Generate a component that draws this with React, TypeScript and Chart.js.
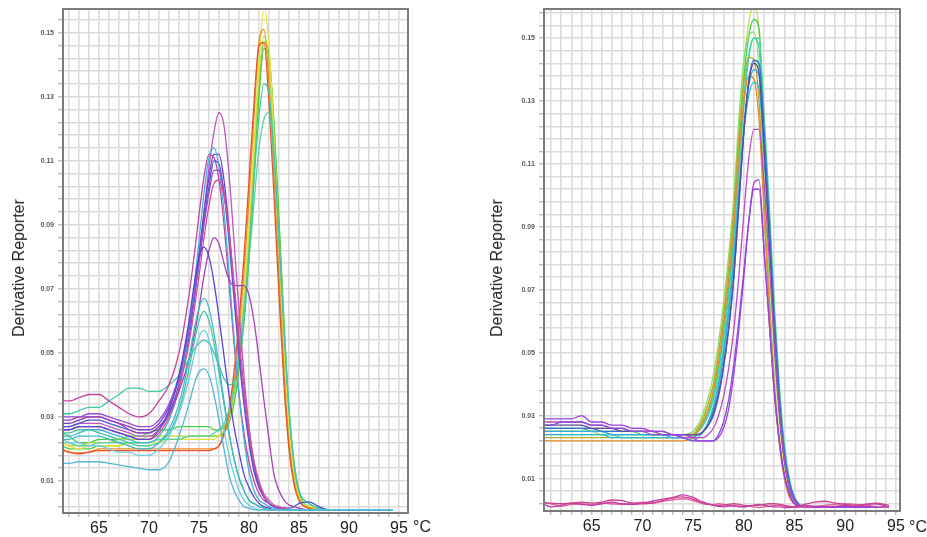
import React, { useEffect, useRef } from "react";
import { Chart, registerables } from "chart.js";

Chart.register(...registerables);

const FONT = '"Liberation Sans", Arial, Helvetica, sans-serif';

// ---------- LEFT PANEL (temperature °C, derivative reporter) ----------
const leftTemps = [
  61.4, 62, 63, 64, 65, 66, 67, 68, 69, 70,
  71, 72, 73, 74, 74.5, 75, 75.5, 76, 76.5, 77,
  77.5, 78, 78.5, 79, 79.5, 80, 80.5, 81, 81.5, 82,
  82.5, 83, 83.5, 84, 84.5, 85, 86, 87, 88, 89,
  90, 91, 92, 93, 94.4,
];

// group peaking near 76 °C
const leftB1 = [
  0.027, 0.027, 0.028, 0.028, 0.028, 0.027, 0.026, 0.025, 0.024, 0.024,
  0.026, 0.031, 0.040, 0.056, 0.067, 0.080, 0.094, 0.108, 0.119, 0.125,
  0.121, 0.106, 0.085, 0.063, 0.043, 0.027, 0.016, 0.009, 0.005, 0.003,
  0.002, 0.0015, 0.0015, 0.001, 0.001, 0.001, 0.001, 0.001, 0.001, 0.001,
  0.001, 0.001, 0.001, 0.001, 0.001,
];
const leftB2 = [
  0.028, 0.028, 0.029, 0.030, 0.030, 0.029, 0.028, 0.027, 0.026, 0.026,
  0.028, 0.033, 0.042, 0.058, 0.069, 0.081, 0.094, 0.105, 0.112, 0.112,
  0.104, 0.089, 0.070, 0.051, 0.035, 0.023, 0.014, 0.008, 0.005, 0.003,
  0.002, 0.0015, 0.0015, 0.001, 0.001, 0.001, 0.001, 0.001, 0.001, 0.001,
  0.001, 0.001, 0.001, 0.001, 0.001,
];
const leftB3 = [
  0.035, 0.035, 0.036, 0.037, 0.037, 0.035, 0.033, 0.031, 0.030, 0.031,
  0.035, 0.040, 0.050, 0.068, 0.080, 0.093, 0.105, 0.112, 0.111, 0.104,
  0.090, 0.072, 0.053, 0.037, 0.025, 0.016, 0.010, 0.006, 0.004, 0.003,
  0.002, 0.0015, 0.0015, 0.001, 0.001, 0.001, 0.001, 0.001, 0.001, 0.001,
  0.001, 0.001, 0.001, 0.001, 0.001,
];
const leftB4 = [
  0.027, 0.027, 0.028, 0.029, 0.029, 0.028, 0.027, 0.026, 0.025, 0.025,
  0.027, 0.031, 0.040, 0.055, 0.066, 0.078, 0.091, 0.102, 0.110, 0.109,
  0.100, 0.085, 0.067, 0.049, 0.034, 0.022, 0.013, 0.008, 0.005, 0.003,
  0.002, 0.0015, 0.0015, 0.0015, 0.002, 0.003, 0.0035, 0.002, 0.001, 0.001,
  0.001, 0.001, 0.001, 0.001, 0.001,
];
const leftB5 = [
  0.024, 0.024, 0.025, 0.026, 0.026, 0.025, 0.024, 0.023, 0.022, 0.022,
  0.024, 0.029, 0.039, 0.057, 0.070, 0.085, 0.100, 0.111, 0.114, 0.108,
  0.094, 0.075, 0.055, 0.037, 0.023, 0.013, 0.007, 0.004, 0.003, 0.002,
  0.0015, 0.0015, 0.001, 0.001, 0.001, 0.001, 0.001, 0.001, 0.001, 0.001,
  0.001, 0.001, 0.001, 0.001, 0.001,
];
const leftB6 = [
  0.030, 0.030, 0.030, 0.031, 0.031, 0.030, 0.029, 0.028, 0.027, 0.027,
  0.029, 0.034, 0.043, 0.057, 0.067, 0.078, 0.090, 0.100, 0.107, 0.107,
  0.100, 0.087, 0.070, 0.052, 0.036, 0.024, 0.015, 0.009, 0.005, 0.003,
  0.002, 0.0015, 0.0015, 0.001, 0.001, 0.001, 0.001, 0.001, 0.001, 0.001,
  0.001, 0.001, 0.001, 0.001, 0.001,
];
const leftB7 = [
  0.026, 0.026, 0.027, 0.027, 0.027, 0.026, 0.025, 0.024, 0.023, 0.023,
  0.025, 0.030, 0.039, 0.053, 0.063, 0.074, 0.086, 0.096, 0.103, 0.104,
  0.099, 0.088, 0.072, 0.055, 0.039, 0.026, 0.016, 0.010, 0.006, 0.004,
  0.0025, 0.002, 0.0015, 0.001, 0.001, 0.001, 0.001, 0.001, 0.001, 0.001,
  0.001, 0.001, 0.001, 0.001, 0.001,
];
const leftB8 = [
  0.029, 0.029, 0.030, 0.030, 0.030, 0.029, 0.028, 0.026, 0.025, 0.025,
  0.027, 0.031, 0.038, 0.048, 0.055, 0.064, 0.074, 0.082, 0.086, 0.084,
  0.078, 0.073, 0.071, 0.071, 0.071, 0.068, 0.060, 0.048, 0.035, 0.023,
  0.012, 0.007, 0.004, 0.0025, 0.002, 0.0015, 0.001, 0.001, 0.001, 0.001,
  0.001, 0.001, 0.001, 0.001, 0.001,
];
const leftB9 = [
  0.026, 0.026, 0.027, 0.027, 0.027, 0.026, 0.025, 0.024, 0.023, 0.023,
  0.026, 0.032, 0.043, 0.060, 0.071, 0.080, 0.083, 0.080, 0.072, 0.061,
  0.049, 0.037, 0.027, 0.019, 0.012, 0.008, 0.005, 0.003, 0.002, 0.0015,
  0.001, 0.001, 0.001, 0.001, 0.001, 0.001, 0.001, 0.001, 0.001, 0.001,
  0.001, 0.001, 0.001, 0.001, 0.001,
];
const leftB10 = [
  0.023, 0.023, 0.024, 0.024, 0.024, 0.023, 0.022, 0.021, 0.020, 0.020,
  0.022, 0.026, 0.034, 0.048, 0.057, 0.064, 0.067, 0.064, 0.056, 0.046,
  0.035, 0.025, 0.017, 0.011, 0.007, 0.004, 0.003, 0.002, 0.0015, 0.001,
  0.001, 0.001, 0.001, 0.001, 0.001, 0.001, 0.001, 0.001, 0.001, 0.001,
  0.001, 0.001, 0.001, 0.001, 0.001,
];
const leftB11 = [
  0.025, 0.025, 0.026, 0.026, 0.025, 0.024, 0.023, 0.022, 0.021, 0.021,
  0.022, 0.025, 0.032, 0.045, 0.053, 0.060, 0.063, 0.060, 0.053, 0.044,
  0.034, 0.025, 0.017, 0.011, 0.007, 0.004, 0.003, 0.002, 0.0015, 0.001,
  0.001, 0.001, 0.001, 0.001, 0.001, 0.001, 0.001, 0.001, 0.001, 0.001,
  0.001, 0.001, 0.001, 0.001, 0.001,
];
const leftB12 = [
  0.0155, 0.0155, 0.016, 0.016, 0.016, 0.0155, 0.015, 0.0145, 0.014, 0.0135,
  0.0135, 0.016, 0.024, 0.034, 0.040, 0.044, 0.045, 0.043, 0.037, 0.029,
  0.020, 0.012, 0.007, 0.004, 0.002, 0.0015, 0.001, 0.001, 0.001, 0.001,
  0.001, 0.001, 0.001, 0.001, 0.001, 0.001, 0.001, 0.001, 0.001, 0.001,
  0.001, 0.001, 0.001, 0.001, 0.001,
];
const leftB13 = [
  0.022, 0.022, 0.022, 0.021, 0.021, 0.020, 0.019, 0.019, 0.018, 0.018,
  0.020, 0.024, 0.031, 0.042, 0.049, 0.055, 0.057, 0.054, 0.046, 0.036,
  0.026, 0.018, 0.012, 0.007, 0.004, 0.0025, 0.0015, 0.001, 0.001, 0.001,
  0.001, 0.001, 0.001, 0.001, 0.001, 0.001, 0.001, 0.001, 0.001, 0.001,
  0.001, 0.001, 0.001, 0.001, 0.001,
];

// group peaking near 81.5 °C
const leftA1 = [
  0.022, 0.021, 0.020, 0.021, 0.021, 0.021, 0.021, 0.022, 0.022, 0.022,
  0.022, 0.023, 0.023, 0.023, 0.023, 0.023, 0.023, 0.023, 0.023, 0.024,
  0.026, 0.031, 0.040, 0.053, 0.069, 0.090, 0.115, 0.141, 0.158, 0.146,
  0.118, 0.085, 0.052, 0.027, 0.012, 0.005, 0.002, 0.0015, 0.001, 0.001,
  0.001, 0.001, 0.001, 0.001, 0.001,
];
const leftA2 = [
  0.020, 0.019, 0.0188, 0.019, 0.020, 0.020, 0.020, 0.020, 0.020, 0.020,
  0.020, 0.020, 0.020, 0.020, 0.020, 0.020, 0.020, 0.020, 0.020, 0.021,
  0.024, 0.030, 0.041, 0.056, 0.075, 0.098, 0.124, 0.147, 0.151, 0.134,
  0.106, 0.074, 0.044, 0.022, 0.010, 0.004, 0.0015, 0.001, 0.001, 0.001,
  0.001, 0.001, 0.001, 0.001, 0.001,
];
const leftA3 = [
  0.0195, 0.019, 0.0185, 0.019, 0.0195, 0.0195, 0.0195, 0.0195, 0.0195, 0.0195,
  0.0195, 0.0195, 0.0195, 0.0195, 0.0195, 0.0195, 0.0195, 0.0195, 0.020, 0.021,
  0.025, 0.032, 0.044, 0.060, 0.080, 0.104, 0.128, 0.146, 0.147, 0.128,
  0.099, 0.068, 0.040, 0.020, 0.009, 0.004, 0.0015, 0.001, 0.001, 0.001,
  0.001, 0.001, 0.001, 0.001, 0.001,
];
const leftA4 = [
  0.022, 0.021, 0.021, 0.022, 0.022, 0.022, 0.023, 0.023, 0.023, 0.024,
  0.024, 0.024, 0.024, 0.024, 0.024, 0.024, 0.024, 0.024, 0.024, 0.024,
  0.026, 0.030, 0.038, 0.050, 0.066, 0.087, 0.112, 0.136, 0.149, 0.140,
  0.114, 0.083, 0.051, 0.026, 0.012, 0.005, 0.002, 0.0015, 0.001, 0.001,
  0.001, 0.001, 0.001, 0.001, 0.001,
];
const leftA5 = [
  0.025, 0.024, 0.022, 0.022, 0.023, 0.023, 0.023, 0.024, 0.024, 0.025,
  0.026, 0.026, 0.027, 0.027, 0.027, 0.027, 0.027, 0.027, 0.026, 0.026,
  0.027, 0.030, 0.037, 0.049, 0.064, 0.085, 0.110, 0.134, 0.147, 0.143,
  0.120, 0.090, 0.057, 0.030, 0.014, 0.006, 0.002, 0.0015, 0.001, 0.001,
  0.001, 0.001, 0.001, 0.001, 0.001,
];
const leftA6 = [
  0.021, 0.020, 0.020, 0.020, 0.021, 0.021, 0.021, 0.022, 0.022, 0.022,
  0.023, 0.023, 0.023, 0.024, 0.024, 0.024, 0.024, 0.024, 0.024, 0.024,
  0.025, 0.028, 0.034, 0.045, 0.060, 0.080, 0.105, 0.130, 0.145, 0.142,
  0.122, 0.092, 0.060, 0.032, 0.015, 0.006, 0.002, 0.0015, 0.001, 0.001,
  0.001, 0.001, 0.001, 0.001, 0.001,
];
const leftA7 = [
  0.031, 0.031, 0.032, 0.033, 0.033, 0.035, 0.037, 0.039, 0.039, 0.038,
  0.038, 0.040, 0.043, 0.048, 0.051, 0.053, 0.054, 0.053, 0.050, 0.046,
  0.042, 0.040, 0.041, 0.047, 0.060, 0.080, 0.104, 0.124, 0.134, 0.131,
  0.113, 0.086, 0.057, 0.032, 0.016, 0.007, 0.003, 0.0015, 0.001, 0.001,
  0.001, 0.001, 0.001, 0.001, 0.001,
];
const leftA8 = [
  0.023, 0.022, 0.021, 0.021, 0.022, 0.022, 0.022, 0.022, 0.022, 0.022,
  0.023, 0.023, 0.023, 0.024, 0.024, 0.024, 0.024, 0.024, 0.025, 0.026,
  0.028, 0.032, 0.039, 0.050, 0.064, 0.079, 0.097, 0.114, 0.123, 0.125,
  0.110, 0.085, 0.058, 0.033, 0.016, 0.007, 0.003, 0.0015, 0.001, 0.001,
  0.001, 0.001, 0.001, 0.001, 0.001,
];

// ---------- RIGHT PANEL ----------
const rightTemps = [
  60.3, 61, 62, 63, 64, 65, 66, 67, 68, 69,
  70, 71, 72, 73, 74, 75, 75.5, 76, 76.5, 77,
  77.5, 78, 78.5, 79, 79.5, 80, 80.5, 81, 81.5, 82,
  82.5, 83, 83.5, 84, 84.5, 85, 86, 87, 88, 89,
  90, 91, 92, 93, 94.3,
];

const rightN1 = [
  0.0025, 0.0022, 0.0020, 0.0022, 0.0025, 0.0022, 0.0025, 0.0032, 0.0030, 0.0022,
  0.0020, 0.0022, 0.0030, 0.0038, 0.0042, 0.0035, 0.0028, 0.0022, 0.0018, 0.0016,
  0.0015, 0.0016, 0.0018, 0.0020, 0.0018, 0.0015, 0.0014, 0.0015, 0.0016, 0.0018,
  0.0020, 0.0020, 0.0018, 0.0015, 0.0012, 0.0010, 0.0018, 0.0025, 0.0028, 0.0022,
  0.0018, 0.0015, 0.0018, 0.0022, 0.0015,
];
const rightN2 = [
  0.0018, 0.0010, 0.0015, 0.0022, 0.0018, 0.0015, 0.0020, 0.0025, 0.0020, 0.0018,
  0.0022, 0.0028, 0.0035, 0.0040, 0.0048, 0.0040, 0.0032, 0.0025, 0.0020, 0.0015,
  0.0012, 0.0010, 0.0012, 0.0015, 0.0012, 0.0010, 0.0012, 0.0015, 0.0018, 0.0015,
  0.0012, 0.0010, 0.0010, 0.0008, 0.0008, 0.0010, 0.0015, 0.0012, 0.0010, 0.0012,
  0.0015, 0.0012, 0.0018, 0.0020, 0.0010,
];
const rightN3 = [
  0.0022, 0.0020, 0.0012, 0.0018, 0.0020, 0.0018, 0.0022, 0.0020, 0.0018, 0.0022,
  0.0025, 0.0022, 0.0028, 0.0032, 0.0036, 0.0030, 0.0025, 0.0020, 0.0018, 0.0018,
  0.0020, 0.0018, 0.0015, 0.0012, 0.0010, 0.0010, 0.0012, 0.0010, 0.0008, 0.0010,
  0.0012, 0.0015, 0.0015, 0.0012, 0.0010, 0.0008, 0.0010, 0.0012, 0.0015, 0.0018,
  0.0020, 0.0018, 0.0015, 0.0012, 0.0008,
];

const rightR12 = [
  0.029, 0.029, 0.029, 0.029, 0.030, 0.028, 0.028, 0.027, 0.027, 0.026,
  0.026, 0.025, 0.025, 0.024, 0.024, 0.023, 0.022, 0.022, 0.022, 0.022,
  0.023, 0.026, 0.032, 0.043, 0.057, 0.074, 0.092, 0.104, 0.105, 0.083,
  0.060, 0.038, 0.022, 0.011, 0.005, 0.002, 0.001, 0.001, 0.001, 0.001,
  0.001, 0.001, 0.001, 0.001, 0.001,
];
const rightR13 = [
  0.027, 0.027, 0.028, 0.028, 0.028, 0.027, 0.027, 0.026, 0.026, 0.025,
  0.025, 0.024, 0.024, 0.024, 0.023, 0.022, 0.022, 0.022, 0.022, 0.022,
  0.024, 0.028, 0.035, 0.046, 0.060, 0.076, 0.092, 0.102, 0.102, 0.082,
  0.060, 0.038, 0.022, 0.011, 0.005, 0.002, 0.001, 0.001, 0.001, 0.001,
  0.001, 0.001, 0.001, 0.001, 0.001,
];
const rightR11 = [
  0.028, 0.028, 0.028, 0.028, 0.028, 0.027, 0.027, 0.026, 0.026, 0.025,
  0.025, 0.025, 0.024, 0.024, 0.023, 0.023, 0.023, 0.023, 0.024, 0.026,
  0.030, 0.036, 0.045, 0.057, 0.074, 0.094, 0.112, 0.121, 0.121, 0.104,
  0.080, 0.053, 0.031, 0.016, 0.007, 0.003, 0.001, 0.001, 0.001, 0.001,
  0.001, 0.001, 0.001, 0.001, 0.001,
];
const rightR9 = [
  0.027, 0.027, 0.027, 0.027, 0.027, 0.026, 0.026, 0.026, 0.025, 0.025,
  0.025, 0.025, 0.025, 0.024, 0.024, 0.024, 0.024, 0.025, 0.027, 0.031,
  0.037, 0.046, 0.058, 0.074, 0.097, 0.120, 0.136, 0.142, 0.139, 0.115,
  0.086, 0.056, 0.032, 0.016, 0.007, 0.003, 0.001, 0.001, 0.001, 0.001,
  0.001, 0.001, 0.001, 0.001, 0.001,
];
const rightR7 = [
  0.026, 0.026, 0.026, 0.026, 0.026, 0.026, 0.025, 0.025, 0.025, 0.025,
  0.025, 0.025, 0.024, 0.024, 0.024, 0.024, 0.024, 0.025, 0.027, 0.030,
  0.036, 0.045, 0.057, 0.073, 0.096, 0.120, 0.137, 0.143, 0.142, 0.121,
  0.093, 0.062, 0.037, 0.019, 0.009, 0.004, 0.001, 0.001, 0.001, 0.001,
  0.001, 0.001, 0.001, 0.001, 0.001,
];
const rightR8 = [
  0.025, 0.025, 0.025, 0.025, 0.025, 0.025, 0.025, 0.024, 0.024, 0.024,
  0.024, 0.024, 0.024, 0.023, 0.023, 0.023, 0.024, 0.025, 0.028, 0.032,
  0.039, 0.049, 0.062, 0.079, 0.101, 0.122, 0.135, 0.140, 0.138, 0.116,
  0.088, 0.058, 0.034, 0.017, 0.008, 0.003, 0.001, 0.001, 0.001, 0.001,
  0.001, 0.001, 0.001, 0.001, 0.001,
];
const rightR10 = [
  0.024, 0.024, 0.024, 0.024, 0.024, 0.024, 0.024, 0.023, 0.023, 0.023,
  0.023, 0.023, 0.023, 0.023, 0.023, 0.022, 0.023, 0.025, 0.028, 0.033,
  0.040, 0.050, 0.063, 0.079, 0.100, 0.120, 0.132, 0.136, 0.134, 0.113,
  0.087, 0.058, 0.034, 0.017, 0.008, 0.003, 0.001, 0.001, 0.001, 0.001,
  0.001, 0.001, 0.001, 0.001, 0.001,
];
const rightR5 = [
  0.022, 0.022, 0.022, 0.022, 0.022, 0.022, 0.022, 0.022, 0.022, 0.022,
  0.022, 0.022, 0.022, 0.022, 0.022, 0.023, 0.025, 0.028, 0.032, 0.038,
  0.047, 0.059, 0.073, 0.090, 0.112, 0.130, 0.138, 0.137, 0.124, 0.094,
  0.064, 0.038, 0.021, 0.010, 0.004, 0.002, 0.001, 0.001, 0.001, 0.001,
  0.001, 0.001, 0.001, 0.001, 0.001,
];
const rightR6 = [
  0.023, 0.023, 0.023, 0.023, 0.023, 0.023, 0.023, 0.023, 0.023, 0.023,
  0.023, 0.023, 0.023, 0.023, 0.023, 0.024, 0.026, 0.029, 0.034, 0.040,
  0.050, 0.062, 0.077, 0.095, 0.118, 0.136, 0.144, 0.143, 0.130, 0.098,
  0.067, 0.040, 0.022, 0.011, 0.005, 0.002, 0.001, 0.001, 0.001, 0.001,
  0.001, 0.001, 0.001, 0.001, 0.001,
];
const rightR4 = [
  0.024, 0.024, 0.024, 0.024, 0.024, 0.024, 0.024, 0.024, 0.023, 0.023,
  0.023, 0.023, 0.023, 0.023, 0.023, 0.023, 0.025, 0.027, 0.031, 0.036,
  0.044, 0.055, 0.068, 0.085, 0.109, 0.131, 0.145, 0.150, 0.147, 0.117,
  0.086, 0.054, 0.031, 0.016, 0.007, 0.003, 0.001, 0.001, 0.001, 0.001,
  0.001, 0.001, 0.001, 0.001, 0.001,
];
const rightR14 = [
  0.025, 0.025, 0.025, 0.025, 0.025, 0.025, 0.025, 0.024, 0.024, 0.024,
  0.024, 0.024, 0.024, 0.024, 0.024, 0.024, 0.025, 0.027, 0.030, 0.035,
  0.042, 0.052, 0.065, 0.082, 0.106, 0.128, 0.144, 0.150, 0.150, 0.126,
  0.098, 0.066, 0.040, 0.021, 0.010, 0.004, 0.001, 0.001, 0.001, 0.001,
  0.001, 0.001, 0.001, 0.001, 0.001,
];
const rightR3 = [
  0.025, 0.025, 0.025, 0.025, 0.025, 0.025, 0.024, 0.024, 0.024, 0.024,
  0.024, 0.024, 0.024, 0.024, 0.024, 0.025, 0.027, 0.031, 0.036, 0.043,
  0.053, 0.066, 0.081, 0.099, 0.124, 0.143, 0.151, 0.152, 0.140, 0.105,
  0.072, 0.042, 0.023, 0.011, 0.005, 0.002, 0.001, 0.001, 0.001, 0.001,
  0.001, 0.001, 0.001, 0.001, 0.001,
];
const rightR2 = [
  0.026, 0.026, 0.026, 0.026, 0.026, 0.025, 0.025, 0.025, 0.025, 0.025,
  0.024, 0.024, 0.024, 0.024, 0.024, 0.024, 0.026, 0.028, 0.032, 0.037,
  0.045, 0.056, 0.070, 0.088, 0.114, 0.137, 0.151, 0.156, 0.153, 0.120,
  0.088, 0.055, 0.032, 0.016, 0.007, 0.003, 0.001, 0.001, 0.001, 0.001,
  0.001, 0.001, 0.001, 0.001, 0.001,
];
const rightR1 = [
  0.025, 0.025, 0.025, 0.025, 0.025, 0.025, 0.025, 0.024, 0.024, 0.024,
  0.024, 0.024, 0.024, 0.024, 0.024, 0.025, 0.027, 0.030, 0.034, 0.040,
  0.049, 0.061, 0.076, 0.094, 0.121, 0.142, 0.155, 0.161, 0.152, 0.116,
  0.083, 0.050, 0.028, 0.014, 0.006, 0.003, 0.001, 0.001, 0.001, 0.001,
  0.001, 0.001, 0.001, 0.001, 0.001,
];

type Series = { values: number[]; color: string };

const leftSeries: Series[] = [
  { values: leftB12, color: "#55b6d8" },
  { values: leftB13, color: "#6fcbe0" },
  { values: leftB10, color: "#3cb9c4" },
  { values: leftB11, color: "#48c4a6" },
  { values: leftB9, color: "#5a46d0" },
  { values: leftB8, color: "#a542b6" },
  { values: leftB7, color: "#d4508e" },
  { values: leftB6, color: "#9a4ad8" },
  { values: leftB5, color: "#42b2dc" },
  { values: leftB4, color: "#4a58d8" },
  { values: leftB3, color: "#c4449e" },
  { values: leftB2, color: "#7a3cc8" },
  { values: leftB1, color: "#c055c4" },
  { values: leftA7, color: "#3ec8a6" },
  { values: leftA8, color: "#5ad2a0" },
  { values: leftA3, color: "#e8522c" },
  { values: leftA2, color: "#f08c24" },
  { values: leftA1, color: "#e4e23c" },
  { values: leftA4, color: "#b6dc3c" },
  { values: leftA6, color: "#5cc83c" },
  { values: leftA5, color: "#44d046" },
];

const rightSeries: Series[] = [
  { values: rightN1, color: "#d0408c" },
  { values: rightN2, color: "#c03caa" },
  { values: rightN3, color: "#e060a0" },
  { values: rightR12, color: "#a040e0" },
  { values: rightR13, color: "#8a4ad8" },
  { values: rightR11, color: "#c04cc0" },
  { values: rightR9, color: "#5a4a9a" },
  { values: rightR7, color: "#3470dc" },
  { values: rightR8, color: "#38a8e8" },
  { values: rightR10, color: "#30bcc8" },
  { values: rightR5, color: "#e88a28" },
  { values: rightR6, color: "#b8a830" },
  { values: rightR4, color: "#3cd2b4" },
  { values: rightR14, color: "#50d890" },
  { values: rightR3, color: "#88e070" },
  { values: rightR2, color: "#3ccf5a" },
  { values: rightR1, color: "#c8e040" },
];

const yLabelStep = 0.02; // labelled ticks 0.01, 0.03, ...
const yGridStep = 0.004;
const xLabelStep = 5;

const framePlugin = {
  id: "frame",
  afterDraw(chart: any) {
    const { ctx, chartArea: a } = chart;
    ctx.save();
    ctx.strokeStyle = "#7c7c7c";
    ctx.lineWidth = 2;
    ctx.strokeRect(a.left, a.top, a.right - a.left, a.bottom - a.top);
    ctx.restore();
  },
};

type PanelProps = {
  temps: number[];
  series: Series[];
  xMin: number;
  xMax: number;
  yMin: number;
  yMax: number;
  width: number;
  height: number;
  yAxisWidth: number;
  xAxisHeight: number;
  padTop: number;
  padRight: number;
};

function MeltPanel(p: PanelProps) {
  const ref = useRef<HTMLCanvasElement | null>(null);
  useEffect(() => {
    if (!ref.current) return;
    const datasets = p.series.map((s) => ({
      data: s.values.map((y, i) => ({ x: p.temps[i], y })),
      borderColor: s.color,
      borderWidth: 1.3,
      pointRadius: 0,
      fill: false,
      cubicInterpolationMode: "monotone" as const,
    }));
    const chart = new Chart(ref.current, {
      type: "line",
      data: { datasets },
      options: {
        animation: false,
        responsive: false,
        maintainAspectRatio: false,
        devicePixelRatio: 1,
        layout: { padding: { left: 0, top: p.padTop, right: p.padRight, bottom: 0 } },
        plugins: { legend: { display: false }, tooltip: { enabled: false } },
        scales: {
          x: {
            type: "linear",
            min: p.xMin,
            max: p.xMax,
            border: { display: false },
            grid: { color: "#dcdcdc", lineWidth: 1.6, tickLength: 4, tickColor: "#a0a0a0", tickWidth: 1 },
            afterBuildTicks: (s: any) => {
              const t = [];
              for (let v = Math.ceil(p.xMin); v <= Math.floor(p.xMax); v++) t.push({ value: v });
              s.ticks = t;
            },
            afterFit: (s: any) => {
              s.height = p.xAxisHeight;
            },
            ticks: {
              autoSkip: false,
              maxRotation: 0,
              padding: 2,
              color: "#222",
              font: { family: FONT, size: 16 },
              callback: (v: any) => (Number(v) % xLabelStep === 0 ? String(v) : ""),
            },
          },
          y: {
            type: "linear",
            min: p.yMin,
            max: p.yMax,
            border: { display: false },
            grid: { color: "#dcdcdc", lineWidth: 1.6, tickLength: 5, tickColor: "#a0a0a0", tickWidth: 1 },
            afterBuildTicks: (s: any) => {
              const t = [];
              for (let k = 0; ; k++) {
                const v = 0.01 - 2 * yGridStep + k * yGridStep;
                if (v > p.yMax) break;
                if (v >= p.yMin) t.push({ value: Math.round(v * 10000) / 10000 });
              }
              s.ticks = t;
            },
            afterFit: (s: any) => {
              s.width = p.yAxisWidth;
            },
            ticks: {
              autoSkip: false,
              padding: 4,
              color: "#5a5a5a",
              font: { family: FONT, size: 7, weight: "bold" },
              callback: (v: any) => {
                const n = Number(v);
                const r = (n - 0.01) / yLabelStep;
                return Math.abs(r - Math.round(r)) < 1e-6 ? n.toFixed(2) : "";
              },
            },
          },
        },
      },
      plugins: [framePlugin],
    });
    return () => chart.destroy();
  }, []);
  return <canvas ref={ref} width={p.width} height={p.height} style={{ display: "block" }} />;
}

const titleStyle: React.CSSProperties = {
  position: "absolute",
  transform: "translate(-50%, -50%) rotate(-90deg)",
  whiteSpace: "nowrap",
  fontFamily: FONT,
  fontSize: 16,
  color: "#222",
  lineHeight: "18px",
};

const unitStyle: React.CSSProperties = {
  position: "absolute",
  top: 517,
  fontFamily: FONT,
  fontSize: 16,
  lineHeight: "20px",
  color: "#222",
  whiteSpace: "nowrap",
};

export default function App() {
  return (
    <div
      style={{
        position: "fixed",
        left: 0,
        top: 0,
        width: 927,
        height: 537,
        background: "#fff",
        overflow: "hidden",
      }}
    >
      <div style={{ position: "absolute", left: 0, top: 0 }}>
        <MeltPanel
          temps={leftTemps}
          series={leftSeries}
          xMin={61.4}
          xMax={95.9}
          yMin={0}
          yMax={0.1574}
          width={460}
          height={537}
          yAxisWidth={63}
          xAxisHeight={24}
          padTop={9}
          padRight={52}
        />
      </div>
      <div style={{ position: "absolute", left: 470, top: 0 }}>
        <MeltPanel
          temps={rightTemps}
          series={rightSeries}
          xMin={60.3}
          xMax={95.4}
          yMin={-0.0003}
          yMax={0.1593}
          width={457}
          height={537}
          yAxisWidth={74}
          xAxisHeight={26}
          padTop={9}
          padRight={27}
        />
      </div>
      <div style={{ ...titleStyle, left: 18.5, top: 268 }}>Derivative Reporter</div>
      <div style={{ ...titleStyle, left: 497, top: 268 }}>Derivative Reporter</div>
      <div style={{ ...unitStyle, left: 413 }}>°C</div>
      <div style={{ ...unitStyle, left: 909 }}>°C</div>
    </div>
  );
}
